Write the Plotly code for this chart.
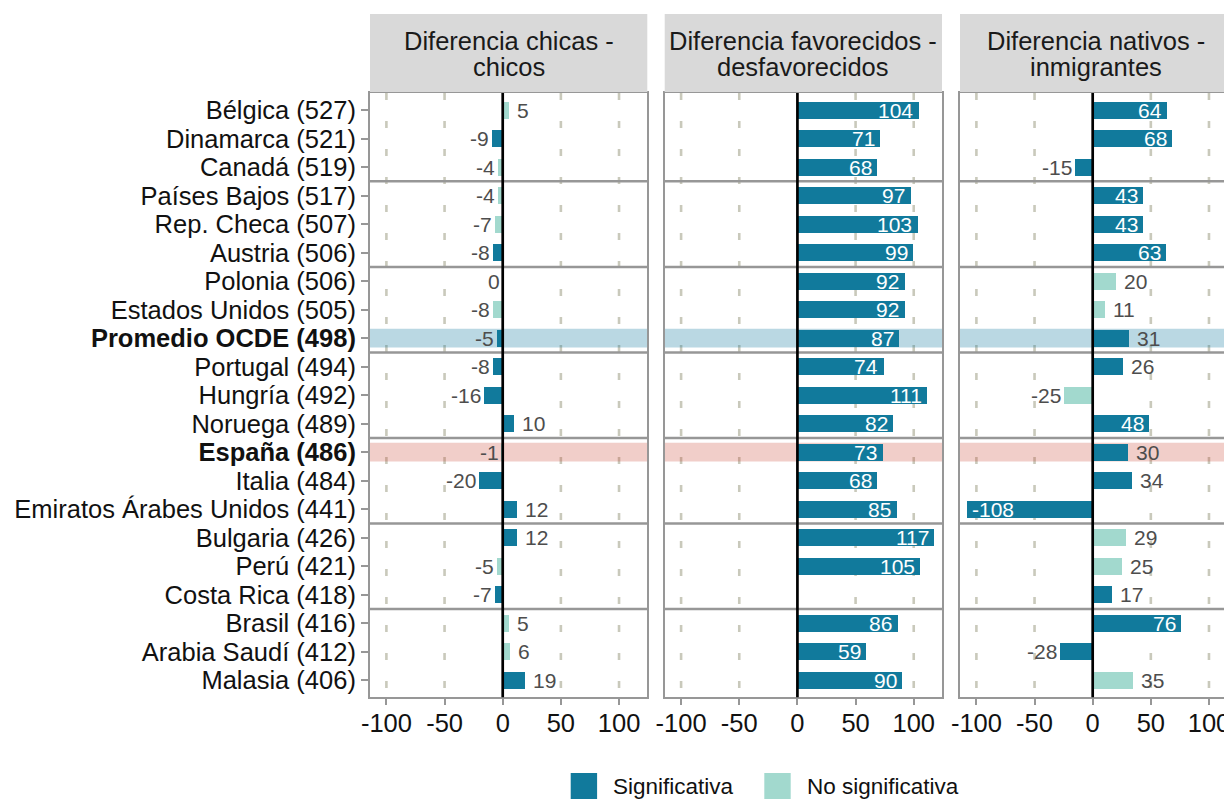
import plotly.graph_objects as go

# ── data ──────────────────────────────────────────────────────────────────────

paises = [
    "Bélgica (527)", "Dinamarca (521)", "Canadá (519)", "Países Bajos (517)",
    "Rep. Checa (507)", "Austria (506)", "Polonia (506)", "Estados Unidos (505)",
    "Promedio OCDE (498)", "Portugal (494)", "Hungría (492)", "Noruega (489)",
    "España (486)", "Italia (484)", "Emiratos Árabes Unidos (441)", "Bulgaria (426)",
    "Perú (421)", "Costa Rica (418)", "Brasil (416)", "Arabia Saudí (412)", "Malasia (406)",
]
negrita = ["Promedio OCDE (498)", "España (486)"]

paneles = [
    ("Diferencia chicas -", "chicos"),
    ("Diferencia favorecidos -", "desfavorecidos"),
    ("Diferencia nativos -", "inmigrantes"),
]

dif_genero = [5, -9, -4, -4, -7, -8, 0, -8, -5, -8, -16, 10, -1, -20, 12, 12, -5, -7, 5, 6, 19]
sig_genero = [0, 1, 0, 0, 0, 1, 0, 0, 1, 1, 1, 1, 0, 1, 1, 1, 0, 1, 0, 0, 1]

dif_socio = [104, 71, 68, 97, 103, 99, 92, 92, 87, 74, 111, 82, 73, 68, 85, 117, 105, None, 86, 59, 90]
sig_socio = [1, 1, 1, 1, 1, 1, 1, 1, 1, 1, 1, 1, 1, 1, 1, 1, 1, 1, 1, 1, 1]

dif_inmig = [64, 68, -15, 43, 43, 63, 20, 11, 31, 26, -25, 48, 30, 34, -108, 29, 25, 17, 76, -28, 35]
sig_inmig = [1, 1, 1, 1, 1, 1, 0, 0, 1, 1, 0, 1, 1, 1, 1, 0, 0, 1, 1, 1, 0]

# last row of each group of countries
fin_grupo = [2, 5, 8, 11, 14, 17]
bandas = {"Promedio OCDE (498)": "rgba(17,122,158,0.29)", "España (486)": "rgba(200,60,40,0.25)"}

ticks_x = [-100, -50, 0, 50, 100]

# ── style ─────────────────────────────────────────────────────────────────────

FONT = "Liberation Sans, Arial, sans-serif"
C_SIG = "#117a9c"
C_NOSIG = "#a2d9ce"
GRIS = "#979797"
W, H = 1232, 800
OFF = 8  # the page body adds an 8px margin


def px(x):
    return (x - OFF) / W


def py(y):
    return 1 - (y - OFF) / H


dominios_x = [(370, 647.3), (664.7, 942.0), (960, 1232)]
rangos_x = [[-114.1, 124.3], [-114.1, 124.3], [-114.1, 119.8]]
dom_y = [py(697.3), py(93)]

datos = [(dif_genero, sig_genero), (dif_socio, sig_socio), (dif_inmig, sig_inmig)]
filas = list(range(len(paises)))

fig = go.Figure()
anns, shapes = [], []

for p, (vals, sig) in enumerate(datos, start=1):
    xa, ya = ("x", "y") if p == 1 else (f"x{p}", f"y{p}")
    for flag, color, name in [(1, C_SIG, "Significativa"), (0, C_NOSIG, "No significativa")]:
        fig.add_trace(go.Bar(
            x=[v if (v is not None and s == flag) else None for v, s in zip(vals, sig)],
            y=filas, orientation="h", width=0.6,
            marker=dict(color=color, line_width=0),
            name=name, showlegend=False, xaxis=xa, yaxis=ya, hoverinfo="skip",
        ))

    # dashed vertical grid (as shapes so the bands can sit on top of it)
    for t in ticks_x:
        if t == 0:
            continue
        shapes.append(dict(
            type="line", xref=xa, yref=f"{ya} domain", x0=t, x1=t, y0=1, y1=0,
            line=dict(color="#c9c9bb", width=2.6, dash="7px,21px"), layer="below",
        ))

    # highlight bands
    for pais, color in bandas.items():
        i = paises.index(pais)
        shapes.append(dict(
            type="rect", xref=f"{xa} domain", yref=ya, x0=0, x1=1,
            y0=i - 0.33, y1=i + 0.33, fillcolor=color, line_width=0, layer="below",
        ))

    # value labels
    for i, v in enumerate(vals):
        if v is None:
            continue
        if abs(v) >= 40:
            anchor, shift, col = ("right", -3, "white") if v > 0 else ("left", 3, "white")
        else:
            anchor, shift, col = ("left", 6, "#4d4d4d") if v > 0 else ("right", -1, "#4d4d4d")
        anns.append(dict(
            x=v, y=i, xref=xa, yref=ya, text=str(v), showarrow=False,
            xanchor=anchor, yanchor="middle", xshift=shift,
            font=dict(family=FONT, size=21, color=col),
        ))

    # group separators
    for g in fin_grupo:
        shapes.append(dict(
            type="line", xref=f"{xa} domain", yref=ya, x0=0, x1=1,
            y0=g + 0.5, y1=g + 0.5, line=dict(color=GRIS, width=2.5), layer="above",
        ))

    # zero line
    shapes.append(dict(
        type="line", xref=xa, yref=f"{ya} domain", x0=0, x1=0, y0=0, y1=1,
        line=dict(color="black", width=2.7), layer="above",
    ))

    # strip
    x0, x1 = dominios_x[p - 1]
    shapes.append(dict(
        type="rect", xref="paper", yref="paper", x0=px(x0), x1=px(x1),
        y0=py(92), y1=py(14), fillcolor="#d9d9d9", line_width=0, layer="above",
    ))
    for linea, yy in zip(paneles[p - 1], [41, 67.5]):
        anns.append(dict(
            x=px((x0 + x1) / 2), y=py(yy), xref="paper", yref="paper",
            text=linea, showarrow=False, xanchor="center", yanchor="middle",
            font=dict(family=FONT, size=25.5, color="#1a1a1a"),
        ))

# ── legend (drawn by hand: large ggplot style keys) ──────────────────────────

leyenda = [("Significativa", C_SIG, 570.7, 612.7), ("No significativa", C_NOSIG, 764.3, 807.3)]
for txt, color, kx, tx in leyenda:
    shapes.append(dict(
        type="rect", xref="paper", yref="paper", x0=px(kx), x1=px(kx + 26.4),
        y0=py(799), y1=py(773), fillcolor=color, line_width=0, layer="above",
    ))
    anns.append(dict(
        x=px(tx), y=py(786), xref="paper", yref="paper", text=txt, showarrow=False,
        xanchor="left", yanchor="middle", xshift=-2,
        font=dict(family=FONT, size=22.5, color="#111111"),
    ))

# ── axes ──────────────────────────────────────────────────────────────────────

ticktext_y = [f"<b>{c}</b>" if c in negrita else c for c in paises]
layout_axes = {}
for p in range(1, 4):
    xk = "xaxis" if p == 1 else f"xaxis{p}"
    yk = "yaxis" if p == 1 else f"yaxis{p}"
    x0, x1 = dominios_x[p - 1]
    layout_axes[xk] = dict(
        domain=[px(x0), px(x1)], range=rangos_x[p - 1], anchor="y" if p == 1 else f"y{p}",
        tickvals=ticks_x, ticktext=[str(t) for t in ticks_x],
        ticks="outside", ticklen=6, tickwidth=2, tickcolor=GRIS,
        tickfont=dict(family=FONT, size=25.5, color="#111111"), ticklabelstandoff=-4,
        showgrid=False, zeroline=False, showline=True, linecolor=GRIS, linewidth=2, mirror=True,
        automargin=False, fixedrange=True,
    )
    layout_axes[yk] = dict(
        domain=dom_y, range=[20.6, -0.6], anchor="x" if p == 1 else f"x{p}",
        tickvals=filas, ticktext=ticktext_y, showticklabels=(p == 1),
        ticks="outside" if p == 1 else "", ticklen=7, tickwidth=2, tickcolor=GRIS,
        tickfont=dict(family=FONT, size=25.5, color="#111111"),
        showgrid=False, zeroline=False, showline=True, linecolor=GRIS, linewidth=2,
        mirror=(p < 3), automargin=False, fixedrange=True,
    )

fig.update_layout(
    width=W, height=H,
    margin=dict(l=0, r=0, t=0, b=0),
    paper_bgcolor="white", plot_bgcolor="white",
    barmode="overlay", bargap=0,
    showlegend=False,
    annotations=anns, shapes=shapes,
    font=dict(family=FONT),
    **layout_axes,
)

fig.write_html("out.html")
